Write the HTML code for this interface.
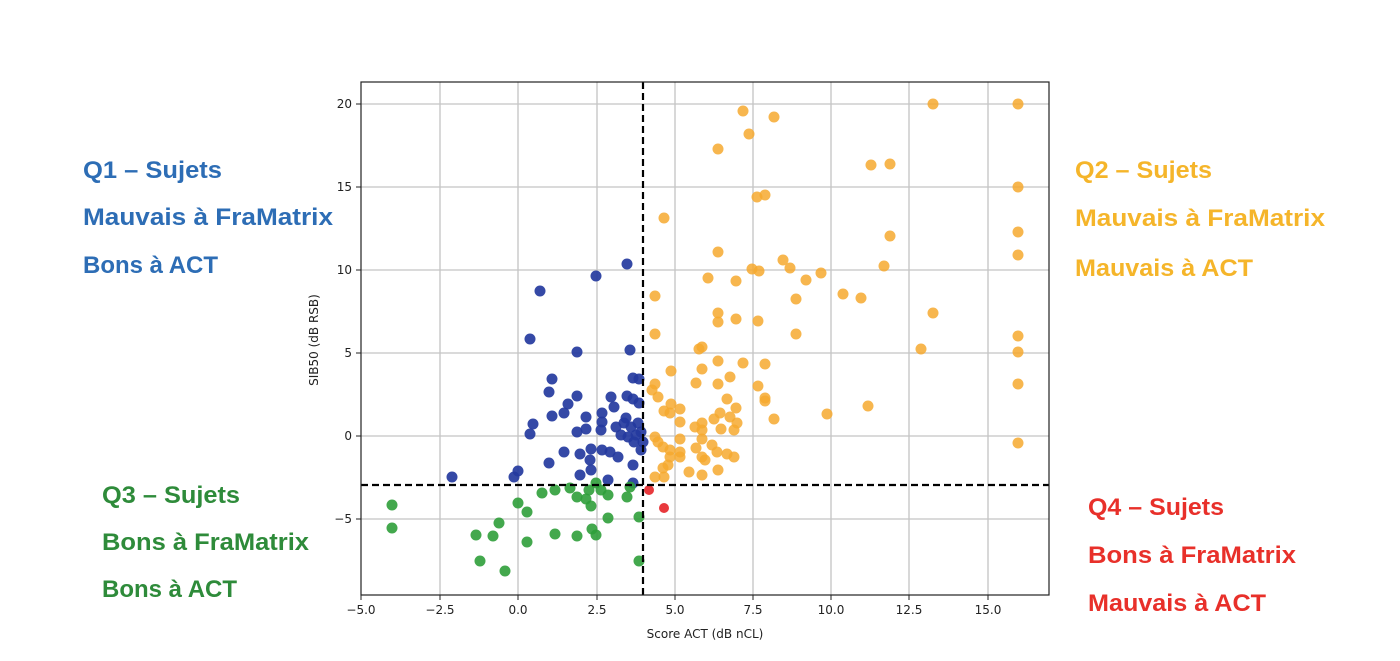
<!DOCTYPE html>
<html><head><meta charset="utf-8"><style>
body{margin:0;background:#fff;}
svg{display:block}
.q{font-family:"Liberation Sans",sans-serif;font-weight:bold;font-size:24px}
.t{font-family:"DejaVu Sans","Liberation Sans",sans-serif;font-size:12px;fill:#222}
</style></head><body>
<svg width="1400" height="661" viewBox="0 0 1400 661" xmlns="http://www.w3.org/2000/svg">
<rect width="1400" height="661" fill="#fff"/>
<g stroke="#c4c4c4" stroke-width="1.3">
<line x1="440" y1="82" x2="440" y2="595"/><line x1="518" y1="82" x2="518" y2="595"/><line x1="597" y1="82" x2="597" y2="595"/><line x1="675" y1="82" x2="675" y2="595"/><line x1="753" y1="82" x2="753" y2="595"/><line x1="831" y1="82" x2="831" y2="595"/><line x1="909" y1="82" x2="909" y2="595"/><line x1="988" y1="82" x2="988" y2="595"/>
<line x1="361" y1="104" x2="1049" y2="104"/><line x1="361" y1="187" x2="1049" y2="187"/><line x1="361" y1="270" x2="1049" y2="270"/><line x1="361" y1="353" x2="1049" y2="353"/><line x1="361" y1="436" x2="1049" y2="436"/><line x1="361" y1="519" x2="1049" y2="519"/>
</g>
<g fill="#f6a92f" fill-opacity="0.85">
<circle cx="933" cy="104" r="5.5"/><circle cx="1018" cy="104" r="5.5"/><circle cx="743" cy="111" r="5.5"/><circle cx="774" cy="117" r="5.5"/><circle cx="749" cy="134" r="5.5"/><circle cx="718" cy="149" r="5.5"/><circle cx="871" cy="165" r="5.5"/><circle cx="890" cy="164" r="5.5"/><circle cx="1018" cy="187" r="5.5"/><circle cx="757" cy="197" r="5.5"/><circle cx="765" cy="195" r="5.5"/><circle cx="664" cy="218" r="5.5"/><circle cx="890" cy="236" r="5.5"/><circle cx="1018" cy="232" r="5.5"/><circle cx="1018" cy="255" r="5.5"/><circle cx="718" cy="252" r="5.5"/><circle cx="783" cy="260" r="5.5"/><circle cx="790" cy="268" r="5.5"/><circle cx="752" cy="269" r="5.5"/><circle cx="759" cy="271" r="5.5"/><circle cx="821" cy="273" r="5.5"/><circle cx="708" cy="278" r="5.5"/><circle cx="736" cy="281" r="5.5"/><circle cx="806" cy="280" r="5.5"/><circle cx="884" cy="266" r="5.5"/><circle cx="655" cy="296" r="5.5"/><circle cx="796" cy="299" r="5.5"/><circle cx="843" cy="294" r="5.5"/><circle cx="861" cy="298" r="5.5"/><circle cx="718" cy="313" r="5.5"/><circle cx="718" cy="322" r="5.5"/><circle cx="736" cy="319" r="5.5"/><circle cx="758" cy="321" r="5.5"/><circle cx="933" cy="313" r="5.5"/><circle cx="655" cy="334" r="5.5"/><circle cx="796" cy="334" r="5.5"/><circle cx="1018" cy="336" r="5.5"/><circle cx="921" cy="349" r="5.5"/><circle cx="1018" cy="352" r="5.5"/><circle cx="699" cy="349" r="5.5"/><circle cx="702" cy="347" r="5.5"/><circle cx="718" cy="361" r="5.5"/><circle cx="743" cy="363" r="5.5"/><circle cx="765" cy="364" r="5.5"/><circle cx="671" cy="371" r="5.5"/><circle cx="702" cy="369" r="5.5"/><circle cx="655" cy="384" r="5.5"/><circle cx="652" cy="390" r="5.5"/><circle cx="696" cy="383" r="5.5"/><circle cx="718" cy="384" r="5.5"/><circle cx="730" cy="377" r="5.5"/><circle cx="758" cy="386" r="5.5"/><circle cx="1018" cy="384" r="5.5"/><circle cx="658" cy="397" r="5.5"/><circle cx="727" cy="399" r="5.5"/><circle cx="765" cy="398" r="5.5"/><circle cx="765" cy="401" r="5.5"/><circle cx="671" cy="404" r="5.5"/><circle cx="664" cy="411" r="5.5"/><circle cx="680" cy="409" r="5.5"/><circle cx="670" cy="413" r="5.5"/><circle cx="736" cy="408" r="5.5"/><circle cx="720" cy="413" r="5.5"/><circle cx="680" cy="422" r="5.5"/><circle cx="714" cy="419" r="5.5"/><circle cx="730" cy="417" r="5.5"/><circle cx="737" cy="423" r="5.5"/><circle cx="774" cy="419" r="5.5"/><circle cx="827" cy="414" r="5.5"/><circle cx="868" cy="406" r="5.5"/><circle cx="695" cy="427" r="5.5"/><circle cx="702" cy="423" r="5.5"/><circle cx="702" cy="430" r="5.5"/><circle cx="721" cy="429" r="5.5"/><circle cx="734" cy="430" r="5.5"/><circle cx="655" cy="437" r="5.5"/><circle cx="680" cy="439" r="5.5"/><circle cx="702" cy="439" r="5.5"/><circle cx="658" cy="442" r="5.5"/><circle cx="663" cy="447" r="5.5"/><circle cx="670" cy="450" r="5.5"/><circle cx="680" cy="452" r="5.5"/><circle cx="680" cy="457" r="5.5"/><circle cx="696" cy="448" r="5.5"/><circle cx="712" cy="445" r="5.5"/><circle cx="717" cy="452" r="5.5"/><circle cx="727" cy="454" r="5.5"/><circle cx="734" cy="457" r="5.5"/><circle cx="1018" cy="443" r="5.5"/><circle cx="670" cy="457" r="5.5"/><circle cx="668" cy="465" r="5.5"/><circle cx="663" cy="468" r="5.5"/><circle cx="702" cy="457" r="5.5"/><circle cx="705" cy="460" r="5.5"/><circle cx="689" cy="472" r="5.5"/><circle cx="718" cy="470" r="5.5"/><circle cx="702" cy="475" r="5.5"/><circle cx="655" cy="477" r="5.5"/><circle cx="664" cy="477" r="5.5"/>
</g>
<g fill="#24399e" fill-opacity="0.92">
<circle cx="627" cy="264" r="5.5"/><circle cx="596" cy="276" r="5.5"/><circle cx="540" cy="291" r="5.5"/><circle cx="530" cy="339" r="5.5"/><circle cx="577" cy="352" r="5.5"/><circle cx="630" cy="350" r="5.5"/><circle cx="552" cy="379" r="5.5"/><circle cx="549" cy="392" r="5.5"/><circle cx="633" cy="378" r="5.5"/><circle cx="639" cy="379" r="5.5"/><circle cx="577" cy="396" r="5.5"/><circle cx="568" cy="404" r="5.5"/><circle cx="564" cy="413" r="5.5"/><circle cx="552" cy="416" r="5.5"/><circle cx="586" cy="417" r="5.5"/><circle cx="611" cy="397" r="5.5"/><circle cx="614" cy="407" r="5.5"/><circle cx="627" cy="396" r="5.5"/><circle cx="633" cy="399" r="5.5"/><circle cx="639" cy="403" r="5.5"/><circle cx="602" cy="413" r="5.5"/><circle cx="602" cy="422" r="5.5"/><circle cx="626" cy="418" r="5.5"/><circle cx="533" cy="424" r="5.5"/><circle cx="530" cy="434" r="5.5"/><circle cx="577" cy="432" r="5.5"/><circle cx="586" cy="429" r="5.5"/><circle cx="601" cy="430" r="5.5"/><circle cx="616" cy="427" r="5.5"/><circle cx="624" cy="423" r="5.5"/><circle cx="631" cy="427" r="5.5"/><circle cx="638" cy="423" r="5.5"/><circle cx="621" cy="435" r="5.5"/><circle cx="628" cy="437" r="5.5"/><circle cx="636" cy="435" r="5.5"/><circle cx="641" cy="432" r="5.5"/><circle cx="634" cy="442" r="5.5"/><circle cx="643" cy="442" r="5.5"/><circle cx="641" cy="450" r="5.5"/><circle cx="564" cy="452" r="5.5"/><circle cx="580" cy="454" r="5.5"/><circle cx="591" cy="449" r="5.5"/><circle cx="602" cy="450" r="5.5"/><circle cx="610" cy="452" r="5.5"/><circle cx="618" cy="457" r="5.5"/><circle cx="590" cy="460" r="5.5"/><circle cx="591" cy="470" r="5.5"/><circle cx="549" cy="463" r="5.5"/><circle cx="580" cy="475" r="5.5"/><circle cx="608" cy="480" r="5.5"/><circle cx="633" cy="465" r="5.5"/><circle cx="633" cy="483" r="5.5"/><circle cx="518" cy="471" r="5.5"/><circle cx="514" cy="477" r="5.5"/><circle cx="452" cy="477" r="5.5"/>
</g>
<g fill="#2f9e3a" fill-opacity="0.9">
<circle cx="392" cy="505" r="5.5"/><circle cx="392" cy="528" r="5.5"/><circle cx="476" cy="535" r="5.5"/><circle cx="480" cy="561" r="5.5"/><circle cx="493" cy="536" r="5.5"/><circle cx="499" cy="523" r="5.5"/><circle cx="505" cy="571" r="5.5"/><circle cx="518" cy="503" r="5.5"/><circle cx="527" cy="512" r="5.5"/><circle cx="527" cy="542" r="5.5"/><circle cx="542" cy="493" r="5.5"/><circle cx="555" cy="490" r="5.5"/><circle cx="555" cy="534" r="5.5"/><circle cx="570" cy="488" r="5.5"/><circle cx="577" cy="497" r="5.5"/><circle cx="577" cy="536" r="5.5"/><circle cx="586" cy="499" r="5.5"/><circle cx="591" cy="506" r="5.5"/><circle cx="589" cy="490" r="5.5"/><circle cx="596" cy="483" r="5.5"/><circle cx="601" cy="490" r="5.5"/><circle cx="608" cy="495" r="5.5"/><circle cx="608" cy="518" r="5.5"/><circle cx="592" cy="529" r="5.5"/><circle cx="596" cy="535" r="5.5"/><circle cx="627" cy="497" r="5.5"/><circle cx="630" cy="487" r="5.5"/><circle cx="639" cy="517" r="5.5"/><circle cx="639" cy="561" r="5.5"/>
</g>
<g fill="#e8393d"><circle cx="649" cy="490" r="5"/><circle cx="664" cy="508" r="5"/></g>
<g stroke="#000" stroke-width="2.2" stroke-dasharray="7,4" fill="none">
<line x1="643" y1="82" x2="643" y2="595"/><line x1="361" y1="485" x2="1049" y2="485"/>
</g>
<rect x="361" y="82" width="688" height="513" fill="none" stroke="#222" stroke-width="1.2"/>
<g stroke="#222" stroke-width="1">
<line x1="361" y1="595" x2="361" y2="600"/><line x1="440" y1="595" x2="440" y2="600"/><line x1="518" y1="595" x2="518" y2="600"/><line x1="597" y1="595" x2="597" y2="600"/><line x1="675" y1="595" x2="675" y2="600"/><line x1="753" y1="595" x2="753" y2="600"/><line x1="831" y1="595" x2="831" y2="600"/><line x1="909" y1="595" x2="909" y2="600"/><line x1="988" y1="595" x2="988" y2="600"/>
<line x1="356" y1="104" x2="361" y2="104"/><line x1="356" y1="187" x2="361" y2="187"/><line x1="356" y1="270" x2="361" y2="270"/><line x1="356" y1="353" x2="361" y2="353"/><line x1="356" y1="436" x2="361" y2="436"/><line x1="356" y1="519" x2="361" y2="519"/>
</g>
<g class="t" text-anchor="middle">
<text x="361" y="614">−5.0</text><text x="440" y="614">−2.5</text><text x="518" y="614">0.0</text><text x="597" y="614">2.5</text><text x="675" y="614">5.0</text><text x="753" y="614">7.5</text><text x="831" y="614">10.0</text><text x="909" y="614">12.5</text><text x="988" y="614">15.0</text>
<text x="705" y="638">Score ACT (dB nCL)</text>
<text transform="translate(318,340) rotate(-90)">SIB50 (dB RSB)</text>
</g>
<g class="t" text-anchor="end">
<text x="352" y="108">20</text><text x="352" y="191">15</text><text x="352" y="274">10</text><text x="352" y="357">5</text><text x="352" y="440">0</text><text x="352" y="523">−5</text>
</g>
<g class="q" fill="#2d6db5"><text x="83" y="178" textLength="139" lengthAdjust="spacingAndGlyphs">Q1 – Sujets</text><text x="83" y="225" textLength="250" lengthAdjust="spacingAndGlyphs">Mauvais à FraMatrix</text><text x="83" y="273" textLength="135" lengthAdjust="spacingAndGlyphs">Bons à ACT</text></g>
<g class="q" fill="#f5b52a"><text x="1075" y="178" textLength="137" lengthAdjust="spacingAndGlyphs">Q2 – Sujets</text><text x="1075" y="226" textLength="250" lengthAdjust="spacingAndGlyphs">Mauvais à FraMatrix</text><text x="1075" y="276" textLength="178" lengthAdjust="spacingAndGlyphs">Mauvais à ACT</text></g>
<g class="q" fill="#2e8b3a"><text x="102" y="503" textLength="138" lengthAdjust="spacingAndGlyphs">Q3 – Sujets</text><text x="102" y="550" textLength="207" lengthAdjust="spacingAndGlyphs">Bons à FraMatrix</text><text x="102" y="597" textLength="135" lengthAdjust="spacingAndGlyphs">Bons à ACT</text></g>
<g class="q" fill="#e8302a"><text x="1088" y="515" textLength="136" lengthAdjust="spacingAndGlyphs">Q4 – Sujets</text><text x="1088" y="563" textLength="208" lengthAdjust="spacingAndGlyphs">Bons à FraMatrix</text><text x="1088" y="611" textLength="178" lengthAdjust="spacingAndGlyphs">Mauvais à ACT</text></g>
</svg>
</body></html>
